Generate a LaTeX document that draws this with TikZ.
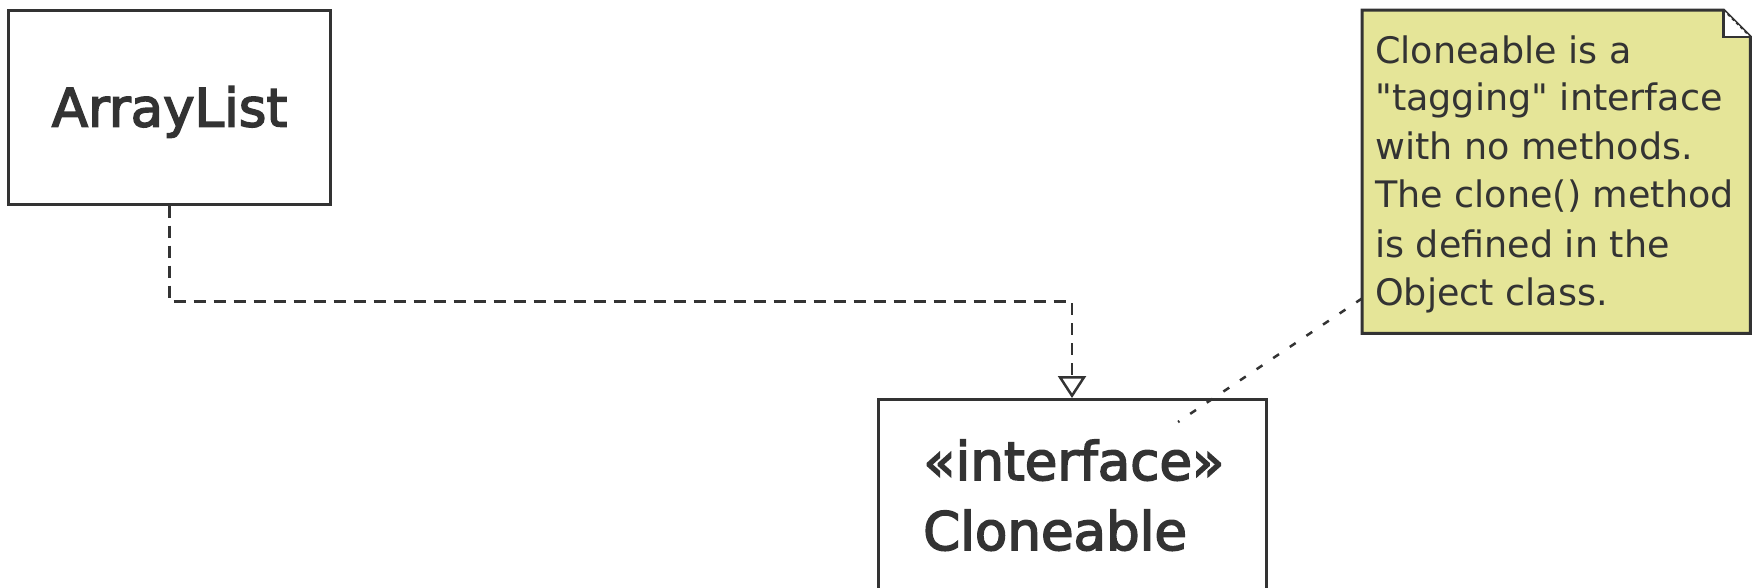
\documentclass[tikz,border=0pt]{standalone}
\usepackage{fontspec}
\setmainfont{DejaVu Sans}
\newfontfamily\heavysans[FakeBold=3]{DejaVu Sans}
\newfontfamily\notesans{DejaVu Sans}
\usetikzlibrary{arrows.meta,calc}
\definecolor{ink}{HTML}{333333}
\definecolor{notefill}{HTML}{E5E598}
\begin{document}
\begin{tikzpicture}[x=1pt,y=-1pt,
  classbox/.style={draw=ink, line width=3pt, fill=white, inner sep=0pt, text=ink,
                   font=\heavysans\fontsize{53}{60}\selectfont},
  umltext/.style={inner sep=0pt, text=ink, font=\heavysans\fontsize{53}{60}\selectfont},
  notetext/.style={inner sep=0pt, text=ink, font=\notesans\fontsize{36.5}{44}\selectfont, anchor=base west},
  realize/.style={draw=ink, line width=2.5pt, dash pattern=on 12pt off 8pt,
                  -{Triangle[open, length=22pt, width=28pt, line width=2.5pt]}},
  notelink/.style={draw=ink, line width=2.5pt, dash pattern=on 7pt off 13pt},
  noteshape/.style={draw=ink, line width=3pt, fill=notefill, line join=miter}
]
\useasboundingbox (0,0) rectangle (1756,587);
\clip (0,0) rectangle (1756,587);

% class ArrayList
\node[classbox, minimum width=322pt, minimum height=194pt, text height=39pt, text depth=0pt]
  (al) at (169.5,107) {ArrayList};

% interface Cloneable (runs off the bottom edge)
\node[classbox, minimum width=388pt, minimum height=300pt, anchor=north] (cl) at (1072,398) {};
\node[umltext, anchor=base west] (stereo) at (923,480) {«interface»};
\node[umltext, anchor=base west] (clname) at (923,550) {Cloneable};

% realization: ArrayList implements Cloneable
\draw[realize] (al.south) -- ++(0,96) -| (cl.north);

% note with folded corner
\node[inner sep=0pt, minimum width=388pt, minimum height=323pt, anchor=north west] (note) at (1362,10) {};
\path[noteshape] (note.north west) -- ([xshift=-27pt]note.north east)
  -- ([yshift=-27pt]note.north east) -- (note.south east) -- (note.south west) -- cycle;
\path[draw=ink, line width=2.5pt, fill=white]
  ([xshift=-27pt]note.north east) -- ([xshift=-27pt,yshift=-27pt]note.north east)
  -- ([yshift=-27pt]note.north east);
\draw[ink, line width=1.5pt, dash pattern=on 3pt off 3pt]
  ([xshift=-27pt]note.north east) -- ([yshift=-27pt]note.north east);

\node[notetext] (n1) at (1375,63)  {Cloneable is a};
\node[notetext] (n2) at (1375,110) {"tagging" interface};
\node[notetext] (n3) at (1375,159) {with no methods.};
\node[notetext] (n4) at (1375,207) {The clone() method};
\node[notetext] (n5) at (1375,257) {is defined in the};
\node[notetext] (n6) at (1375,305) {Object class.};

% note anchor line
\coordinate (nl) at ($(note.south west)+(0,-35)$);
\coordinate (lk) at (1178,422);
\draw[notelink] (nl) -- (lk);
\end{tikzpicture}
\end{document}
